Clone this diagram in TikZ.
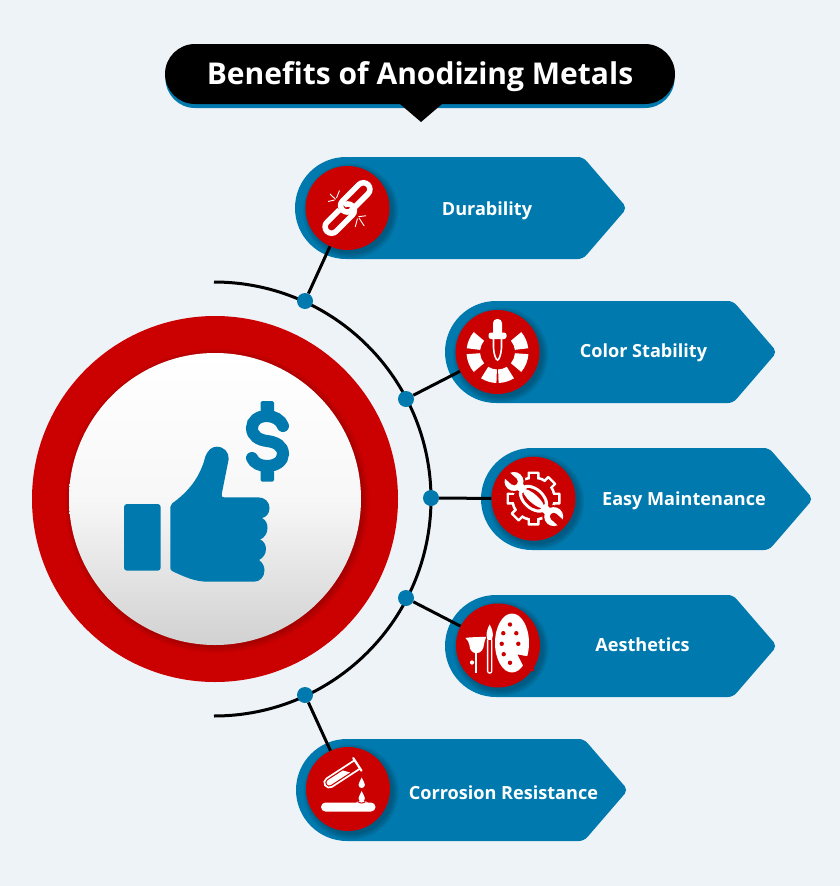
\documentclass[tikz,border=0pt]{standalone}
\usepackage{fontspec}
\setmainfont{Open Sans}
\usetikzlibrary{calc}
\definecolor{bgc}{HTML}{EEF3F8}
\definecolor{blu}{HTML}{007AAE}
\definecolor{rd}{HTML}{CB0000}
\tikzset{
  badge/.style={circle,fill=rd,minimum size=84pt,inner sep=0pt},
  dotn/.style={circle,fill=blu,minimum size=16pt,inner sep=0pt},
  lab/.style={text=white,font=\bfseries\fontsize{18.1pt}{21pt}\selectfont,inner sep=0pt,text height=13.6pt,text depth=5pt},
  wire/.style={line width=3pt,black},
  icon/.style={y=1pt},
}
\newcommand\ribbonshape[2]{%
  \begin{scope}[shift={(#1,#2)}]
    \fill[blu,rounded corners=0pt] (51,0) -- (284,0) [rounded corners=5pt] -- (288,0) -- (332,51) -- (288,102) [rounded corners=0pt] -- (51,102) arc[start angle=270,end angle=90,radius=51pt] -- cycle;
  \end{scope}}
\newcommand\softshadow[3]{%
  \foreach \rr in {#3,...,0}{\fill[black,opacity=.04] (#1+3,#2+3) circle[radius=42pt+\rr pt];}}
\newcommand\dropicon[2]{%
  \begin{scope}[shift={(#1,#2)}]
    \fill[white] (0,6.5) .. controls (1,3.5) and (3.2,1.5) .. (3.2,-.8) arc[start angle=0,end angle=-180,radius=3.2pt] .. controls (-3.2,1.5) and (-1,3.5) .. cycle;
  \end{scope}}
\newcommand\segm[2]{%
  \fill[white] (#1:17.5) arc[start angle=#1,end angle=#2,radius=17.5pt] -- (#2:31) arc[start angle=#2,end angle=#1,radius=31pt] -- cycle;}
\begin{document}
\begin{tikzpicture}[x=1pt,y=-1pt]
\useasboundingbox (0,0) rectangle (840,886);
\fill[bgc] (0,0) rectangle (840,886);
% title
\fill[blu] (195,49) -- (645,49) arc[start angle=90,end angle=-90,radius=29.5pt] -- (195,108) arc[start angle=270,end angle=90,radius=29.5pt] -- cycle;
\fill[black] (195,44) -- (645,44) arc[start angle=90,end angle=-90,radius=30pt] -- (442,104) -- (421,122) -- (400,104) -- (195,104) arc[start angle=270,end angle=90,radius=30pt] -- cycle;
\node[text=white,font=\bfseries\fontsize{30pt}{35pt}\selectfont,inner sep=0pt] (title) at (420,76.5) {Benefits of Anodizing Metals};
% main ring
\fill[rd] (215,499) circle[radius=183pt];
\foreach \rr in {6,...,0}{\fill[black,opacity=.025] (217,501) circle[radius=146pt+\rr pt];}
\node[circle,minimum size=292pt,inner sep=0pt,top color=white,bottom color=black!18,middle color=black!3] (hub) at (215,499) {};
% arc
\draw[wire] (214,282) arc[start angle=90,end angle=-90,radius=217pt];
% thumb
\fill[blu,rounded corners=3pt] (124,504) rectangle (160.7,570.7);
\fill[blu] (172,503.5) .. controls (188,492) and (200,478) .. (205.5,456)
  .. controls (208,450) and (212,446.7) .. (216.7,446.7)
  .. controls (224,446.7) and (229,452) .. (228.7,459)
  -- (221.7,494) .. controls (221.3,496.5) and (222,497.3) .. (224,497.3)
  -- (258,497.3) .. controls (265,497.3) and (269.5,502) .. (269.5,508)
  .. controls (269.5,514) and (266,517) .. (262,518)
  .. controls (266,520) and (267.5,524) .. (267.5,528)
  .. controls (267.5,534) and (264,538) .. (260,539.5)
  .. controls (264,541) and (266,545) .. (266,549)
  .. controls (266,554) and (263,558) .. (259,560)
  .. controls (262,562) and (264.5,566) .. (264.5,570)
  .. controls (264.5,577) and (260,581.7) .. (254,581.7)
  -- (208,581.7) .. controls (195,581.7) and (185,577) .. (173,571.5)
  .. controls (171,570.5) and (170.3,569.5) .. (170.3,568)
  -- (170.3,507) .. controls (170.3,505.5) and (171,504.3) .. (172,503.5) -- cycle;
% dollar
\fill[blu,rounded corners=1.5pt] (260.7,401) rectangle (274,412);
\fill[blu,rounded corners=1.5pt] (260.7,470) rectangle (274,481.7);
\draw[blu,line width=12pt,line cap=round] (283,426) .. controls (281,420) and (274,416) .. (267,416)
  .. controls (258,416) and (252,421) .. (252,428)
  .. controls (252,436) and (259,440) .. (267,441)
  .. controls (276,442) and (283,446) .. (283,454)
  .. controls (283,461) and (276,466) .. (267,466)
  .. controls (260,466) and (254,463) .. (252,458);
% ribbons
\ribbonshape{295}{157}
\ribbonshape{445}{301}
\ribbonshape{481}{448}
\ribbonshape{445}{595}
\ribbonshape{296}{739}
% shadows
\softshadow{347.5}{208}{6}
\softshadow{497.5}{352}{6}
\softshadow{533.5}{498.7}{6}
\softshadow{498}{645.5}{6}
\softshadow{348}{789}{6}
% badges
\node[badge] (c1) at (347.5,208) {};
\node[badge] (c2) at (497.5,352) {};
\node[badge] (c3) at (533.5,498.7) {};
\node[badge] (c4) at (498,645.5) {};
\node[badge] (c5) at (348,789) {};
% dots
\node[dotn] (d1) at (305,301) {};
\node[dotn] (d2) at (406,399) {};
\node[dotn] (d3) at (431,498) {};
\node[dotn] (d4) at (406,598) {};
\node[dotn] (d5) at (305,695) {};
\draw[wire] (d1) -- (c1);
\draw[wire] (d2) -- (c2);
\draw[wire] (d3) -- (c3);
\draw[wire] (d4) -- (c4);
\draw[wire] (d5) -- (c5);
% labels
\node[lab] (l1) at (487,211) {Durability};
\node[lab] (l2) at (643.5,353.5) {Color Stability};
\node[lab] (l3) at (684,501.5) {Easy Maintenance};
\node[lab] (l4) at (642.5,647) {Aesthetics};
\node[lab] (l5) at (503.5,795.5) {Corrosion Resistance};
% icon 1: chain
\begin{scope}[icon,shift={(c1)}]
  \draw[white,line width=.9pt] (-12,8.7) -- (-17.5,14) (-11,10) -- (-8,17.5) (-13,8) -- (-19.5,6.5);
  \draw[white,line width=.9pt] (11,-8.7) -- (18.7,-7.7) (11.5,-10) -- (16.7,-18) (10,-10.5) -- (7.7,-19);
  \begin{scope}[rotate=45]
    \draw[white,line width=5.5pt,rounded corners=6.5pt] (-31,-8.5) rectangle (5,4.5);
    \draw[rd,line width=7.5pt] (-7,4.5) -- (-1,4.5);
    \draw[white,line width=5.5pt,rounded corners=6.5pt] (-5,-4.5) rectangle (31,8.5);
  \end{scope}
\end{scope}
% icon 2: dropper and colour wheel
\begin{scope}[icon,shift={(c2)}]
  \segm{140}{173}\segm{184}{220}\segm{238}{268}\segm{272}{302}\segm{320}{356}\segm{7}{40}
  \fill[white,rounded corners=4pt] (-4.5,33) -- (4.5,33) -- (4.5,15) -- (-4.5,15) -- cycle;
  \fill[white,rounded corners=2.5pt] (-9,19.5) rectangle (9,13);
  \draw[white,line width=1.6pt] (-4,13.5) -- (-4,4) .. controls (-3.5,-3) and (-1.5,-8) .. (0,-8) .. controls (1.5,-8) and (3.5,-3) .. (4,4) -- (4,13.5);
\end{scope}
% icon 3: gear and wrench
\begin{scope}[icon,shift={(c3)}]
  \foreach \a in {0,45,...,315}{\fill[white,rotate=\a,rounded corners=1pt] (-6,16) rectangle (6,27);}
  \fill[white] (0,0) circle[radius=22.5pt];
  \foreach \a in {0,45,...,315}{\fill[rd,rotate=\a] (-3.4,16) rectangle (3.4,24.5);}
  \fill[rd] (0,0) circle[radius=19.8pt];
  \begin{scope}[rotate=-41.5]
    \draw[rd,line width=12pt] (-25,0) -- (25,0);
    \fill[white] (-26,-4) rectangle (26,4);
    \fill[white] (0,0) ellipse[x radius=17pt,y radius=11pt];
    \fill[rd] (0,0) ellipse[x radius=13.5pt,y radius=8pt];
    \fill[white] (0,0) ellipse[x radius=13.5pt,y radius=4.3pt];
    \fill[rd] (-26,0) circle[radius=11.5pt];
    \fill[white] (-26,0) circle[radius=9.5pt];
    \fill[rd] (-26,0) circle[radius=3.8pt];
    \fill[rd] (-37,-3.8) rectangle (-26,3.8);
    \fill[white] (-20,-4) rectangle (-12,4);
    \fill[rd] (27,0) circle[radius=11.5pt];
    \fill[white] (27,0) circle[radius=9.5pt];
    \fill[rd] (27,0) circle[radius=3.8pt];
    \fill[rd] (27,-3.8) rectangle (38,3.8);
    \fill[white] (12,-4) rectangle (21,4);
  \end{scope}
\end{scope}
% icon 4: palette
\begin{scope}[icon,shift={(c4)}]
  \fill[white] (14,2.5) ellipse[x radius=17pt,y radius=29.5pt];
  \fill[rd] (19.5,-9) -- (36,-12) -- (36,-26) -- (26,-22) -- cycle;
  \foreach \p in {(12,21),(5.3,12.3),(18.3,12.3),(3.7,1.7),(20.3,1.7),(5.7,-8.7),(12,-17.3)}{\fill[rd] \p circle[radius=2.2pt];}
  \fill[white] (-8.3,21) .. controls (-6,17) and (-5,13) .. (-5.2,10) -- (-6,5.7) -- (-10.6,5.7) -- (-11.4,10) .. controls (-11.6,13) and (-10.6,17) .. cycle;
  \draw[white,line width=1.3pt] (-10.4,5.7) -- (-10.4,-25.5) arc[start angle=180,end angle=360,radius=2.1pt] -- (-6.2,5.7);
  \fill[white] (-32.7,7.5) .. controls (-28,8.5) and (-16,8.5) .. (-11.7,8.7) .. controls (-13,6) and (-13.5,4) .. (-14,1)
     .. controls (-14.5,-4) and (-17,-7.5) .. (-21.7,-7.7) .. controls (-26,-7.5) and (-28.5,-4) .. (-28.5,0) .. controls (-29,3) and (-30,5) .. cycle;
  \fill[white] (-22.7,-7) rectangle (-20.7,-27.7);
  \fill[white] (-26,-17) circle[radius=2.1pt];
\end{scope}
% icon 5: test tube
\begin{scope}[icon,shift={(c5)}]
  \begin{scope}[shift={(-7,14)},rotate=33]
    \draw[white,line width=1.7pt] (19,-5) -- (-14,-5) arc[start angle=270,end angle=90,radius=5pt] -- (19,5);
    \fill[white] (-14,-2.8) arc[start angle=270,end angle=90,radius=2.8pt] -- (4,2.8) -- (9,-2.8) -- cycle;
    \draw[white,line width=2.2pt,line cap=round] (19.5,-7.5) -- (19.5,7.5);
  \end{scope}
  \dropicon{13.7}{5}
  \fill[white,rounded corners=4.5pt] (-27,-13.5) rectangle (27.5,-22.5);
  \fill[white] (8,-13.5) .. controls (10,-13) and (10,-11.5) .. (13.7,-11.5) .. controls (17.5,-11.5) and (17.5,-13) .. (20,-13.5) -- cycle;
  \draw[rd,line width=.9pt] (10,-12.4) .. controls (11,-14.6) and (16,-14.6) .. (17.2,-12.4);
  \dropicon{13.7}{-8.5}
\end{scope}
\end{tikzpicture}
\end{document}
